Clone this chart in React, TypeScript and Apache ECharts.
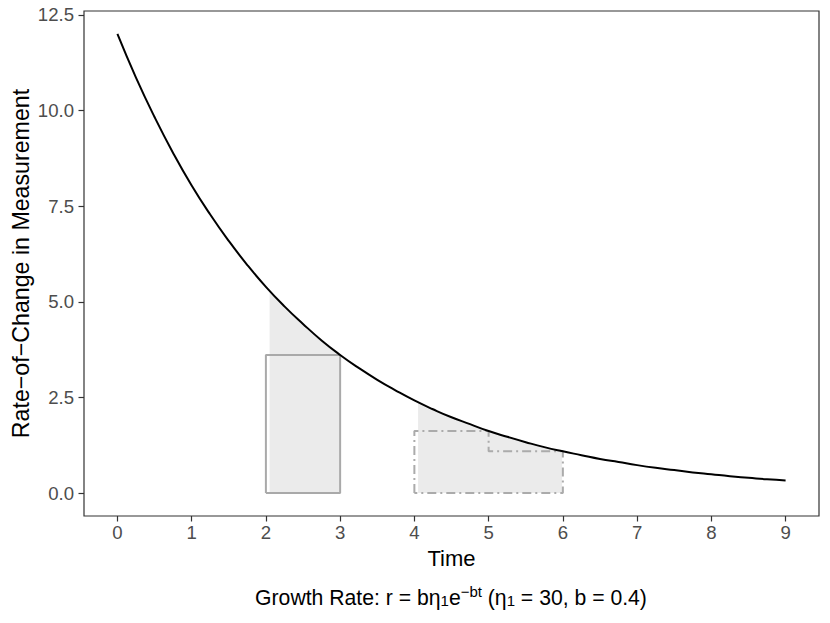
import React, { useEffect, useRef } from "react";
import * as echarts from "echarts";

// Curve values (time, rate)
const curveTimes = [0, 0.25, 0.5, 0.75, 1, 1.25, 1.5, 1.75, 2, 2.25, 2.5, 2.75, 3, 3.25, 3.5, 3.75, 4, 4.25, 4.5, 4.75, 5, 5.25, 5.5, 5.75, 6, 6.25, 6.5, 6.75, 7, 7.25, 7.5, 7.75, 8, 8.25, 8.5, 8.75, 9];
const curveValues = [12.0, 10.86, 9.83, 8.89, 8.04, 7.28, 6.59, 5.96, 5.39, 4.88, 4.42, 3.99, 3.61, 3.27, 2.96, 2.68, 2.42, 2.19, 1.98, 1.80, 1.62, 1.47, 1.33, 1.20, 1.09, 0.99, 0.89, 0.81, 0.73, 0.66, 0.60, 0.54, 0.49, 0.44, 0.40, 0.36, 0.33];

// Shaded regions under the curve
const shade1Times = [2.05, 2.25, 2.5, 2.75, 3];
const shade1Values = [5.29, 4.88, 4.42, 3.99, 3.61];
const shade2Times = [4.05, 4.25, 4.5, 4.75, 5, 5.25, 5.5, 5.75, 5.99];
const shade2Values = [2.38, 2.19, 1.98, 1.8, 1.62, 1.47, 1.33, 1.2, 1.09];

// Rectangle outlines
const rect1Times = [2, 2, 3, 3, 2];
const rect1Values = [0, 3.61, 3.61, 0, 0];
const rect2Times = [4, 4, 5, 5, 6, 6, 4];
const rect2Values = [0, 1.62, 1.62, 1.09, 1.09, 0, 0];

const xTicks = [0, 1, 2, 3, 4, 5, 6, 7, 8, 9];
const yTicks = [0, 2.5, 5, 7.5, 10, 12.5];

const zip = (xs: number[], ys: number[]) => xs.map((x, i) => [x, ys[i]]);

const FONT = "Liberation Sans, Arial, Helvetica, sans-serif";

export default function App() {
  const ref = useRef<HTMLDivElement>(null);
  useEffect(() => {
    if (!ref.current) return;
    const chart = echarts.init(ref.current, undefined, { renderer: "svg" });
    const tickLabel = { color: "#4D4D4D", fontSize: 18.6, fontFamily: FONT };
    chart.setOption({
      animation: false,
      textStyle: { fontFamily: FONT },
      grid: {
        left: 84,
        right: 11,
        top: 11,
        bottom: 107,
        containLabel: false,
        outerBoundsMode: "none",
        show: true,
        borderColor: "#333333",
        borderWidth: 1.2,
        backgroundColor: "#ffffff",
      },
      xAxis: {
        type: "value",
        min: -0.45,
        max: 9.45,
        name: "Time",
        nameLocation: "middle",
        nameGap: 31,
        nameMoveOverlap: false,
        nameTextStyle: { color: "#000", fontSize: 22, fontFamily: FONT },
        axisLine: { show: false, onZero: false },
        splitLine: { show: false },
        axisTick: { show: true, length: 5.5, lineStyle: { color: "#333333", width: 1.2 }, customValues: xTicks },
        axisLabel: { ...tickLabel, margin: 7, customValues: xTicks, formatter: (v: number) => String(v) },
      },
      yAxis: {
        type: "value",
        min: -0.6,
        max: 12.6,
        name: "Rate\u2212of\u2212Change in Measurement",
        nameLocation: "middle",
        nameGap: 52,
        nameMoveOverlap: false,
        nameTextStyle: { color: "#000", fontSize: 23.2, fontFamily: FONT },
        axisLine: { show: false, onZero: false },
        splitLine: { show: false },
        axisTick: { show: true, length: 5.5, lineStyle: { color: "#333333", width: 1.2 }, customValues: yTicks },
        axisLabel: { ...tickLabel, margin: 10, customValues: yTicks, formatter: (v: number) => v.toFixed(1) },
      },
      graphic: [
        {
          type: "text",
          x: 451,
          y: 597,
          style: {
            text: "{n|Growth Rate: r = b\u03b7}{sub|1}{n|e}{sup|\u2212bt}{n| (\u03b7}{sub|1}{n| = 30, b = 0.4)}",
            align: "center",
            verticalAlign: "middle",
            rich: {
              n: { fontSize: 21.2, fontFamily: FONT, fill: "#000", lineHeight: 28, verticalAlign: "middle" },
              sub: { fontSize: 15, fontFamily: FONT, fill: "#000", lineHeight: 28, verticalAlign: "bottom", padding: [0, 0, 3, 0] },
              sup: { fontSize: 15, fontFamily: FONT, fill: "#000", lineHeight: 28, verticalAlign: "top", padding: [1, 0, 0, 0] },
            },
          },
        },
      ],
      series: [
        {
          type: "line",
          data: zip(shade1Times, shade1Values),
          showSymbol: false,
          lineStyle: { width: 0 },
          areaStyle: { color: "#EBEBEB", opacity: 1, origin: 0 },
          z: 1,
        },
        {
          type: "line",
          data: zip(shade2Times, shade2Values),
          showSymbol: false,
          lineStyle: { width: 0 },
          areaStyle: { color: "#EBEBEB", opacity: 1, origin: 0 },
          z: 1,
        },
        {
          type: "line",
          data: zip(rect1Times, rect1Values),
          showSymbol: false,
          lineStyle: { color: "#A9A9A9", width: 2 },
          z: 2,
        },
        {
          type: "line",
          data: zip(rect2Times, rect2Values),
          showSymbol: false,
          lineStyle: { color: "#ABABAB", width: 2, type: [9, 4, 2, 4] },
          z: 2,
        },
        {
          type: "line",
          data: zip(curveTimes, curveValues),
          showSymbol: false,
          smooth: true,
          lineStyle: { color: "#000000", width: 2 },
          z: 3,
        },
      ],
    });
    return () => chart.dispose();
  }, []);
  return <div ref={ref} style={{ width: 830, height: 623, margin: -8 }} />;
}
